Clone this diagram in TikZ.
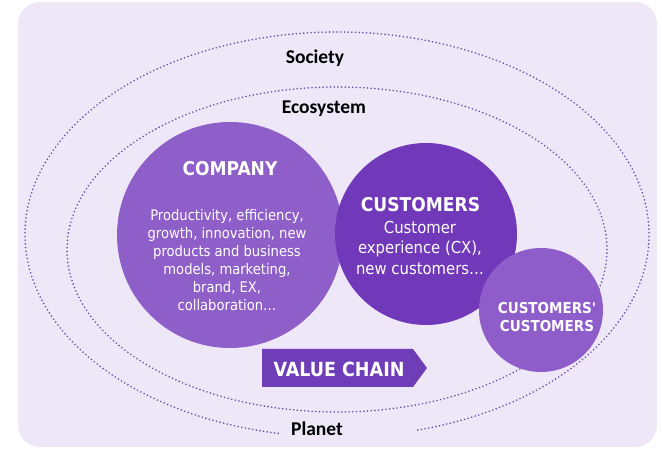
\documentclass[tikz,border=0pt]{standalone}
\usepackage{fontspec}
\setmainfont{DejaVu Sans}
\newfontfamily\zonefont{Carlito}
\newfontfamily\bubblefont{DejaVu Sans Condensed}
\definecolor{bgCol}{HTML}{EEE7F8}
\definecolor{dotCol}{HTML}{6452A4}
\definecolor{companyCol}{HTML}{8F5FC9}
\definecolor{customerCol}{HTML}{7139BA}
\definecolor{ccCol}{HTML}{8E5DCA}
\definecolor{chainCol}{HTML}{6F3DB8}
\tikzstyle{ring}=[draw=dotCol, line width=1.8pt, line cap=round, dash pattern=on 0pt off 3.7pt]
\tikzstyle{bubble}=[circle, inner sep=0pt, draw=none]
\tikzstyle{zone}=[font=\zonefont\bfseries\fontsize{19.5}{22}\selectfont, text=black]
\tikzstyle{headline}=[font=\bubblefont\bfseries\fontsize{19}{22}\selectfont, text=white]
\tikzstyle{blurb}=[font=\bubblefont\fontsize{14.6}{18}\selectfont, text=white, align=center]

\begin{document}
\begin{tikzpicture}[x=1pt, y=1pt]

    % ==== BACKGROUND ====
    \useasboundingbox (0,0) rectangle (662,449);
    \fill[bgCol, rounded corners=22pt] (18,2) rectangle (657,447);

    % === RINGS ===
    \draw[ring] (337,214.5) ++(285:312 and 202.5)
        arc[start angle=285, end angle=619.5, x radius=312, y radius=202.5];
    \draw[ring] (337,199.5) ellipse [x radius=270, y radius=162.5];

    \node[zone] (society) at (315,391) {Society};
    \node[zone] (ecosystem) at (324,340) {Ecosystem};
    \node[zone] (planet) at (317,20) {Planet};

    % === BUBBLES ===
    \node[bubble, fill=companyCol, minimum size=226pt] (company) at (230,214) {};
    \node[bubble, fill=customerCol, minimum size=182pt] (customers) at (426,215) {};
    \node[bubble, fill=ccCol, minimum size=124pt] (ccust) at (541,139) {};

    \node[headline] (company-title) at (230,280) {COMPANY};
    \node[blurb] (company-text) at (227,189) {Productivity, efficiency,\\
        growth, innovation, new\\ products and business\\ models, marketing,\\
        brand, EX,\\ collaboration\dots};

    \node[headline] (customers-title) at (420.5,244) {CUSTOMERS};
    \node[blurb, font=\bubblefont\fontsize{16.5}{20.5}\selectfont] (customers-text) at (420,201)
        {Customer\\ experience (CX),\\ new customers\dots};

    \node[headline, align=center, font=\bubblefont\bfseries\fontsize{15}{18}\selectfont]
        (ccust-title) at (547,132) {CUSTOMERS'\\ CUSTOMERS};

    % === VALUE CHAIN ===
    \fill[chainCol] (262,62) -- (413,62) -- (427,81) -- (413,100) -- (262,100) -- cycle;
    \node[headline, font=\bubblefont\bfseries\fontsize{19.5}{22}\selectfont] (chain) at (339,80) {VALUE CHAIN};

\end{tikzpicture}
\end{document}
